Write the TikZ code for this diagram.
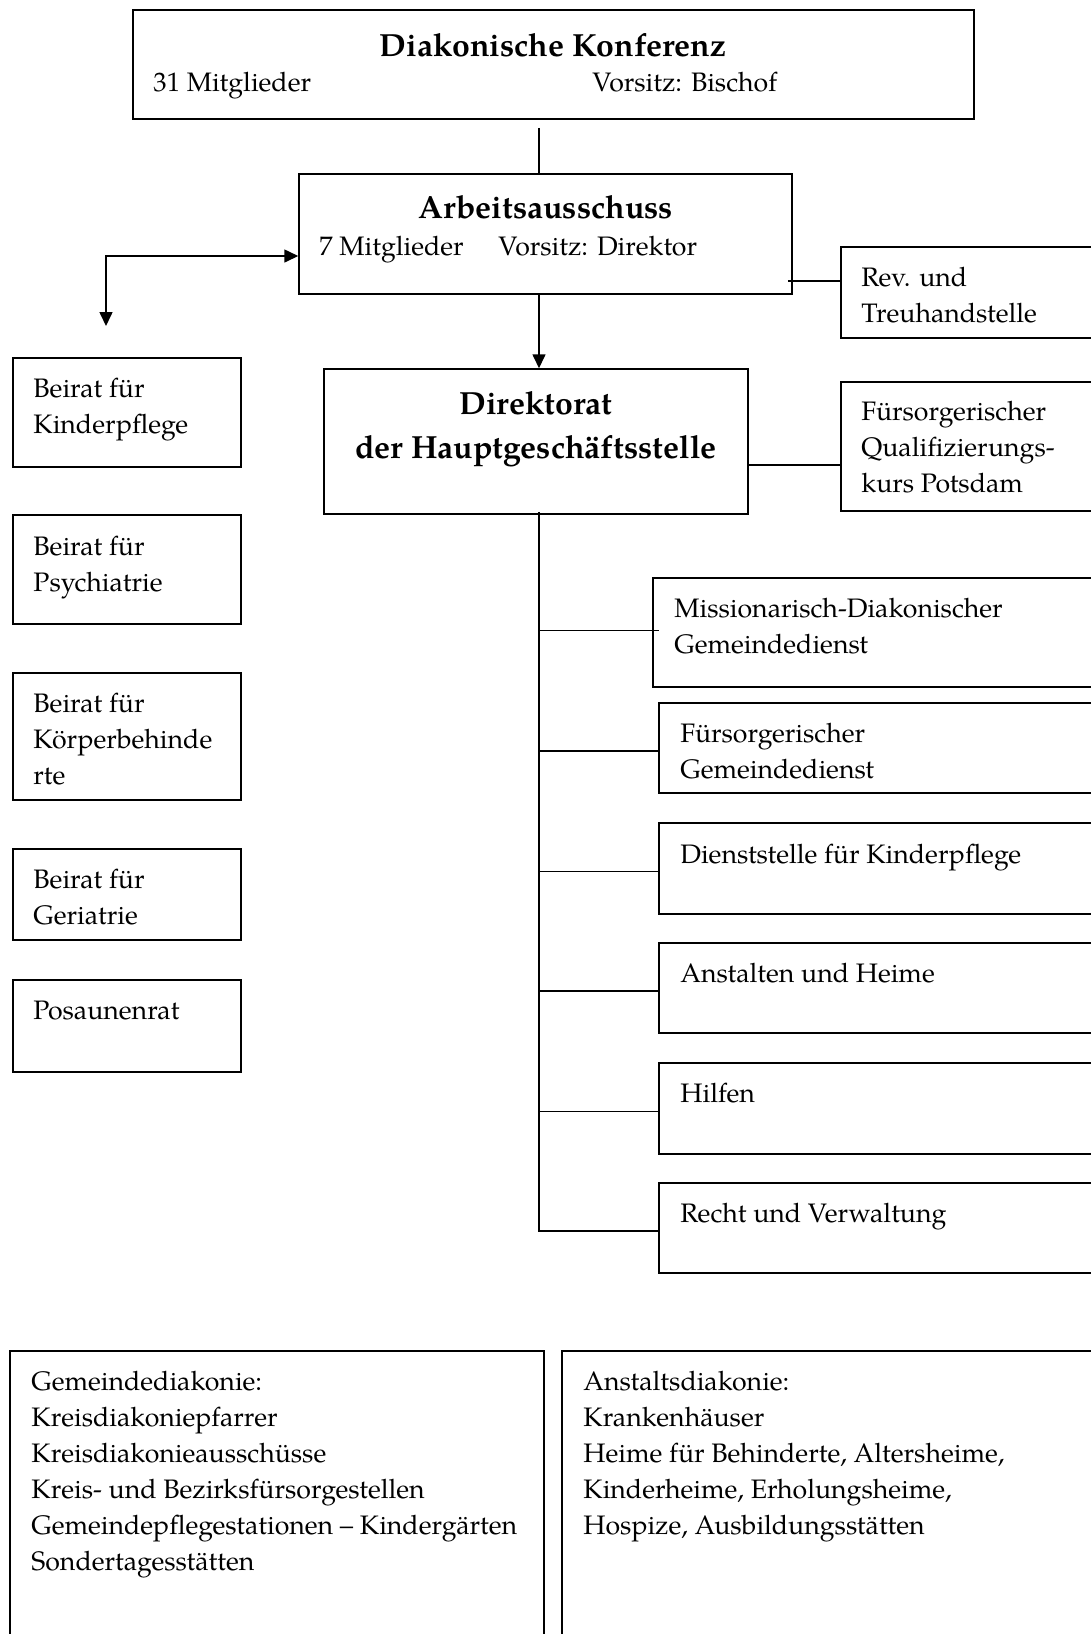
\documentclass[tikz,border=0pt]{standalone}
\usepackage{fontspec}
\setmainfont{texgyrepagella}[Extension=.otf, UprightFont=*-regular, BoldFont=*-bold, ItalicFont=*-italic, BoldItalicFont=*-bolditalic]
\usetikzlibrary{arrows.meta,calc,fit}
\newcommand\lns[1]{\begin{tabular}[t]{@{}l@{}}#1\end{tabular}}
\newcommand\lnsc[1]{\begin{tabular}[t]{@{}c@{}}#1\end{tabular}}
\begin{document}
\begin{tikzpicture}[x=0.5pt,y=-0.5pt,
  box/.style={draw, line width=0.75pt, inner sep=0pt},
  conn/.style={line width=0.8pt},
  tip/.tip={Triangle[length=7pt,width=6.5pt]},
  arr/.style={conn, -tip},
  txt/.style={anchor=base west, inner sep=0pt, font=\fontsize{13.35}{18}\selectfont},
  ttl/.style={anchor=base, inner sep=0pt, font=\fontsize{16}{22}\selectfont\bfseries}
]
\useasboundingbox (0,0) rectangle (1091,1634);
\fill[white] (0,0) rectangle (1091,1634);

% boxes
\node[box, fit={(133,10)(974,119)}] (konf) {};
\node[box, fit={(299,174)(792,294)}] (arb) {};
\node[box, fit={(841,247)(1100,338)}] (rev) {};
\node[box, fit={(324,369)(748,514)}] (dir) {};
\node[box, fit={(841,382)(1100,511)}] (fq) {};
\node[box, fit={(13,358)(241,467)}] (bk) {};
\node[box, fit={(13,515)(241,624)}] (bp) {};
\node[box, fit={(13,673)(241,800)}] (bkb) {};
\node[box, fit={(13,849)(241,940)}] (bg) {};
\node[box, fit={(13,980)(241,1072)}] (pos) {};
\node[box, fit={(653,578)(1100,687)}] (mis) {};
\node[box, fit={(659,703)(1100,793)}] (fg) {};
\node[box, fit={(659,823)(1100,914)}] (ds) {};
\node[box, fit={(659,943)(1100,1033)}] (ah) {};
\node[box, fit={(659,1063)(1100,1154)}] (hi) {};
\node[box, fit={(659,1183)(1100,1273)}] (rv) {};
\node[box, fit={(10,1351)(544,1645)}] (gd) {};
\node[box, fit={(562,1351)(1100,1645)}] (ad) {};

% texts
\node[ttl] (t1) at (553,56) {Diakonische Konferenz};
\node[txt] (t2) at (153,91) {31 Mitglieder};
\node[txt] (t3) at (592,91) {Vorsitz: Bischof};
\node[ttl] (t4) at (546,218) {Arbeitsausschuss};
\node[txt] (t5) at (319,255) {7 Mitglieder};
\node[txt] (t6) at (498,255) {Vorsitz: Direktor};
\node[txt] (t7) at (861,286) {\lns{Rev. und\\Treuhandstelle}};
\node[ttl] (t8) at (536,414) {\lnsc{Direktorat\\der Hauptgeschäftsstelle}};
\node[txt] (t9) at (861,420) {\lns{Fürsorgerischer\\Qualifizierungs-\\kurs Potsdam}};
\node[txt] (t10) at (33,397) {\lns{Beirat für\\Kinderpflege}};
\node[txt] (t11) at (33,555) {\lns{Beirat für\\Psychiatrie}};
\node[txt] (t12) at (33,712) {\lns{Beirat für\\Körperbehinde\\rte}};
\node[txt] (t13) at (33,888) {\lns{Beirat für\\Geriatrie}};
\node[txt] (t14) at (33,1019) {Posaunenrat};
\node[txt] (t15) at (674,617) {\lns{Missionarisch-Diakonischer\\Gemeindedienst}};
\node[txt] (t16) at (680,742) {\lns{Fürsorgerischer\\Gemeindedienst}};
\node[txt] (t17) at (680,863) {Dienststelle für Kinderpflege};
\node[txt] (t18) at (680,982) {Anstalten und Heime};
\node[txt] (t19) at (680,1102) {Hilfen};
\node[txt] (t20) at (680,1222) {Recht und Verwaltung};
\node[txt] (t21) at (31,1390) {\lns{Gemeindediakonie:\\Kreisdiakoniepfarrer\\Kreisdiakonieausschüsse\\Kreis- und Bezirksfürsorgestellen\\Gemeindepflegestationen – Kindergärten\\Sondertagesstätten}};
\node[txt] (t22) at (583,1390) {\lns{Anstaltsdiakonie:\\Krankenhäuser\\Heime für Behinderte, Altersheime,\\Kinderheime, Erholungsheime,\\Hospize, Ausbildungsstätten}};

% connectors
\coordinate (trk) at (539,0);
\coordinate (bdown) at (106,326);
\draw[conn] ($(konf.south -| trk)+(0,8)$) -- (arb.north -| trk);
\draw[arr] (arb.south -| trk) -- (dir.north -| trk);
\draw[conn, tip-tip] (bdown) |- ($(arb.west)+(0,22)$);
\draw[conn] ($(arb.east)+(-5,47)$) -- ($(rev.west)+(0,-11.5)$);
\draw[conn] ($(dir.east)+(0,23.5)$) -- ($(fq.west)+(0,18.5)$);
\draw[conn] ($(dir.south -| trk)+(0,-3)$) -- ($(rv.west -| trk)+(0,3)$) -- ($(rv.west)+(0,3)$);
\draw[conn] ($(mis.west -| trk)+(0,-2)$) -- ($(mis.west)+(7,-2)$);
\foreach \b in {fg,ds,ah,hi} \draw[conn] ($(\b.west -| trk)+(0,3)$) -- ($(\b.west)+(0,3)$);
\end{tikzpicture}
\end{document}
